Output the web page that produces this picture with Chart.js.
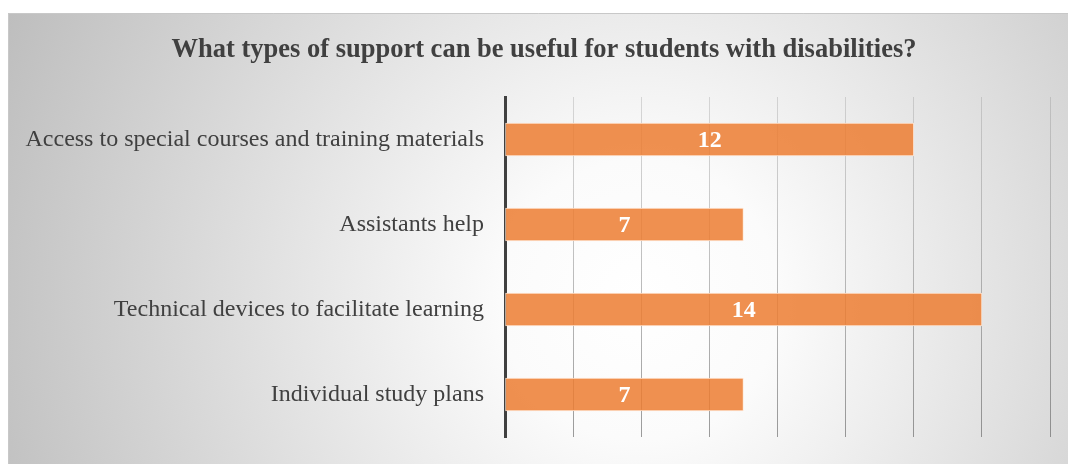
<!DOCTYPE html>
<html>
<head>
<meta charset="utf-8">
<script src="https://cdn.jsdelivr.net/npm/chart.js@4"></script>
<style>
html,body{margin:0;padding:0;background:#fff;}
#wrap{width:1068px;height:464px;position:relative;}
</style>
</head>
<body>
<div id="wrap"><canvas id="c" width="1068" height="464"></canvas></div>
<script>
const categories = [
  "Access to special courses and training materials",
  "Assistants help",
  "Technical devices to facilitate learning",
  "Individual study plans"
];
const values = [12, 7, 14, 7];
const titleText = "What types of support can be useful for students with disabilities?";
const xMin = 0, xMax = 16, xStep = 2;

const bgPlugin = {
  id: 'bg',
  beforeDraw(chart) {
    const ctx = chart.ctx;
    ctx.save();
    ctx.fillStyle = '#ffffff';
    ctx.fillRect(0, 0, chart.width, chart.height);
    const g = ctx.createRadialGradient(640, 300, 0, 640, 300, 700);
    g.addColorStop(0, '#ffffff');
    g.addColorStop(0.2, '#fbfbfb');
    g.addColorStop(1, '#bdbdbd');
    ctx.fillStyle = g;
    ctx.fillRect(8, 13, chart.width - 8, chart.height - 13);
    ctx.strokeStyle = '#c8c8c8';
    ctx.lineWidth = 1;
    ctx.beginPath();
    ctx.moveTo(8.5, chart.height);
    ctx.lineTo(8.5, 13.5);
    ctx.lineTo(chart.width, 13.5);
    ctx.stroke();
    // title
    ctx.font = 'bold 26.5px "Liberation Serif", "Times New Roman", serif';
    ctx.fillStyle = '#404040';
    ctx.textAlign = 'center';
    ctx.textBaseline = 'middle';
    ctx.fillText(titleText, 544, 50);
    ctx.restore();
  }
};

const labelPlugin = {
  id: 'vals',
  afterDatasetsDraw(chart) {
    const ctx = chart.ctx;
    const meta = chart.getDatasetMeta(0);
    ctx.save();
    ctx.font = 'bold 24px "Liberation Serif", "Times New Roman", serif';
    ctx.fillStyle = '#ffffff';
    ctx.textAlign = 'center';
    ctx.textBaseline = 'middle';
    meta.data.forEach((bar, i) => {
      const cx = (bar.x + bar.base) / 2;
      ctx.fillText(String(chart.data.datasets[0].data[i]), cx, bar.y + 1);
    });
    ctx.restore();
  }
};

new Chart(document.getElementById('c'), {
  type: 'bar',
  data: {
    labels: categories,
    datasets: [{
      data: values,
      backgroundColor: 'rgba(236,125,49,0.85)',
      borderColor: 'rgba(255,230,210,0.9)',
      borderWidth: 1,
      borderSkipped: false,
      barThickness: 33
    }]
  },
  options: {
    indexAxis: 'y',
    responsive: false,
    animation: false,
    layout: { padding: { left: 0, right: 18, top: 97, bottom: 27 } },
    plugins: {
      legend: { display: false },
      tooltip: { enabled: false },
      title: { display: false }
    },
    scales: {
      x: {
        min: xMin, max: xMax,
        afterFit: (s) => { s.height = 0; },
        ticks: { display: false, stepSize: xStep },
        border: { display: false },
        grid: {
          drawTicks: false,
          lineWidth: 1,
          color: (ctx) => {
            const ch = ctx.chart;
            const a = ch.chartArea;
            if (!a) return '#bbbbbb';
            const g = ch.ctx.createLinearGradient(0, a.top, 0, a.bottom);
            g.addColorStop(0, 'rgba(120,120,120,0.25)');
            g.addColorStop(1, 'rgba(90,90,90,0.6)');
            return g;
          }
        }
      },
      y: {
        afterFit: (s) => { s.width = 505; s.paddingTop = 0; s.paddingBottom = 0; },
        ticks: {
          color: '#404040',
          padding: 21,
          font: { family: '"Liberation Serif", "Times New Roman", serif', size: 24 }
        },
        grid: { display: false, drawTicks: false },
        border: { display: true, color: '#404040', width: 3 }
      }
    }
  },
  plugins: [bgPlugin, labelPlugin]
});
</script>
</body>
</html>
